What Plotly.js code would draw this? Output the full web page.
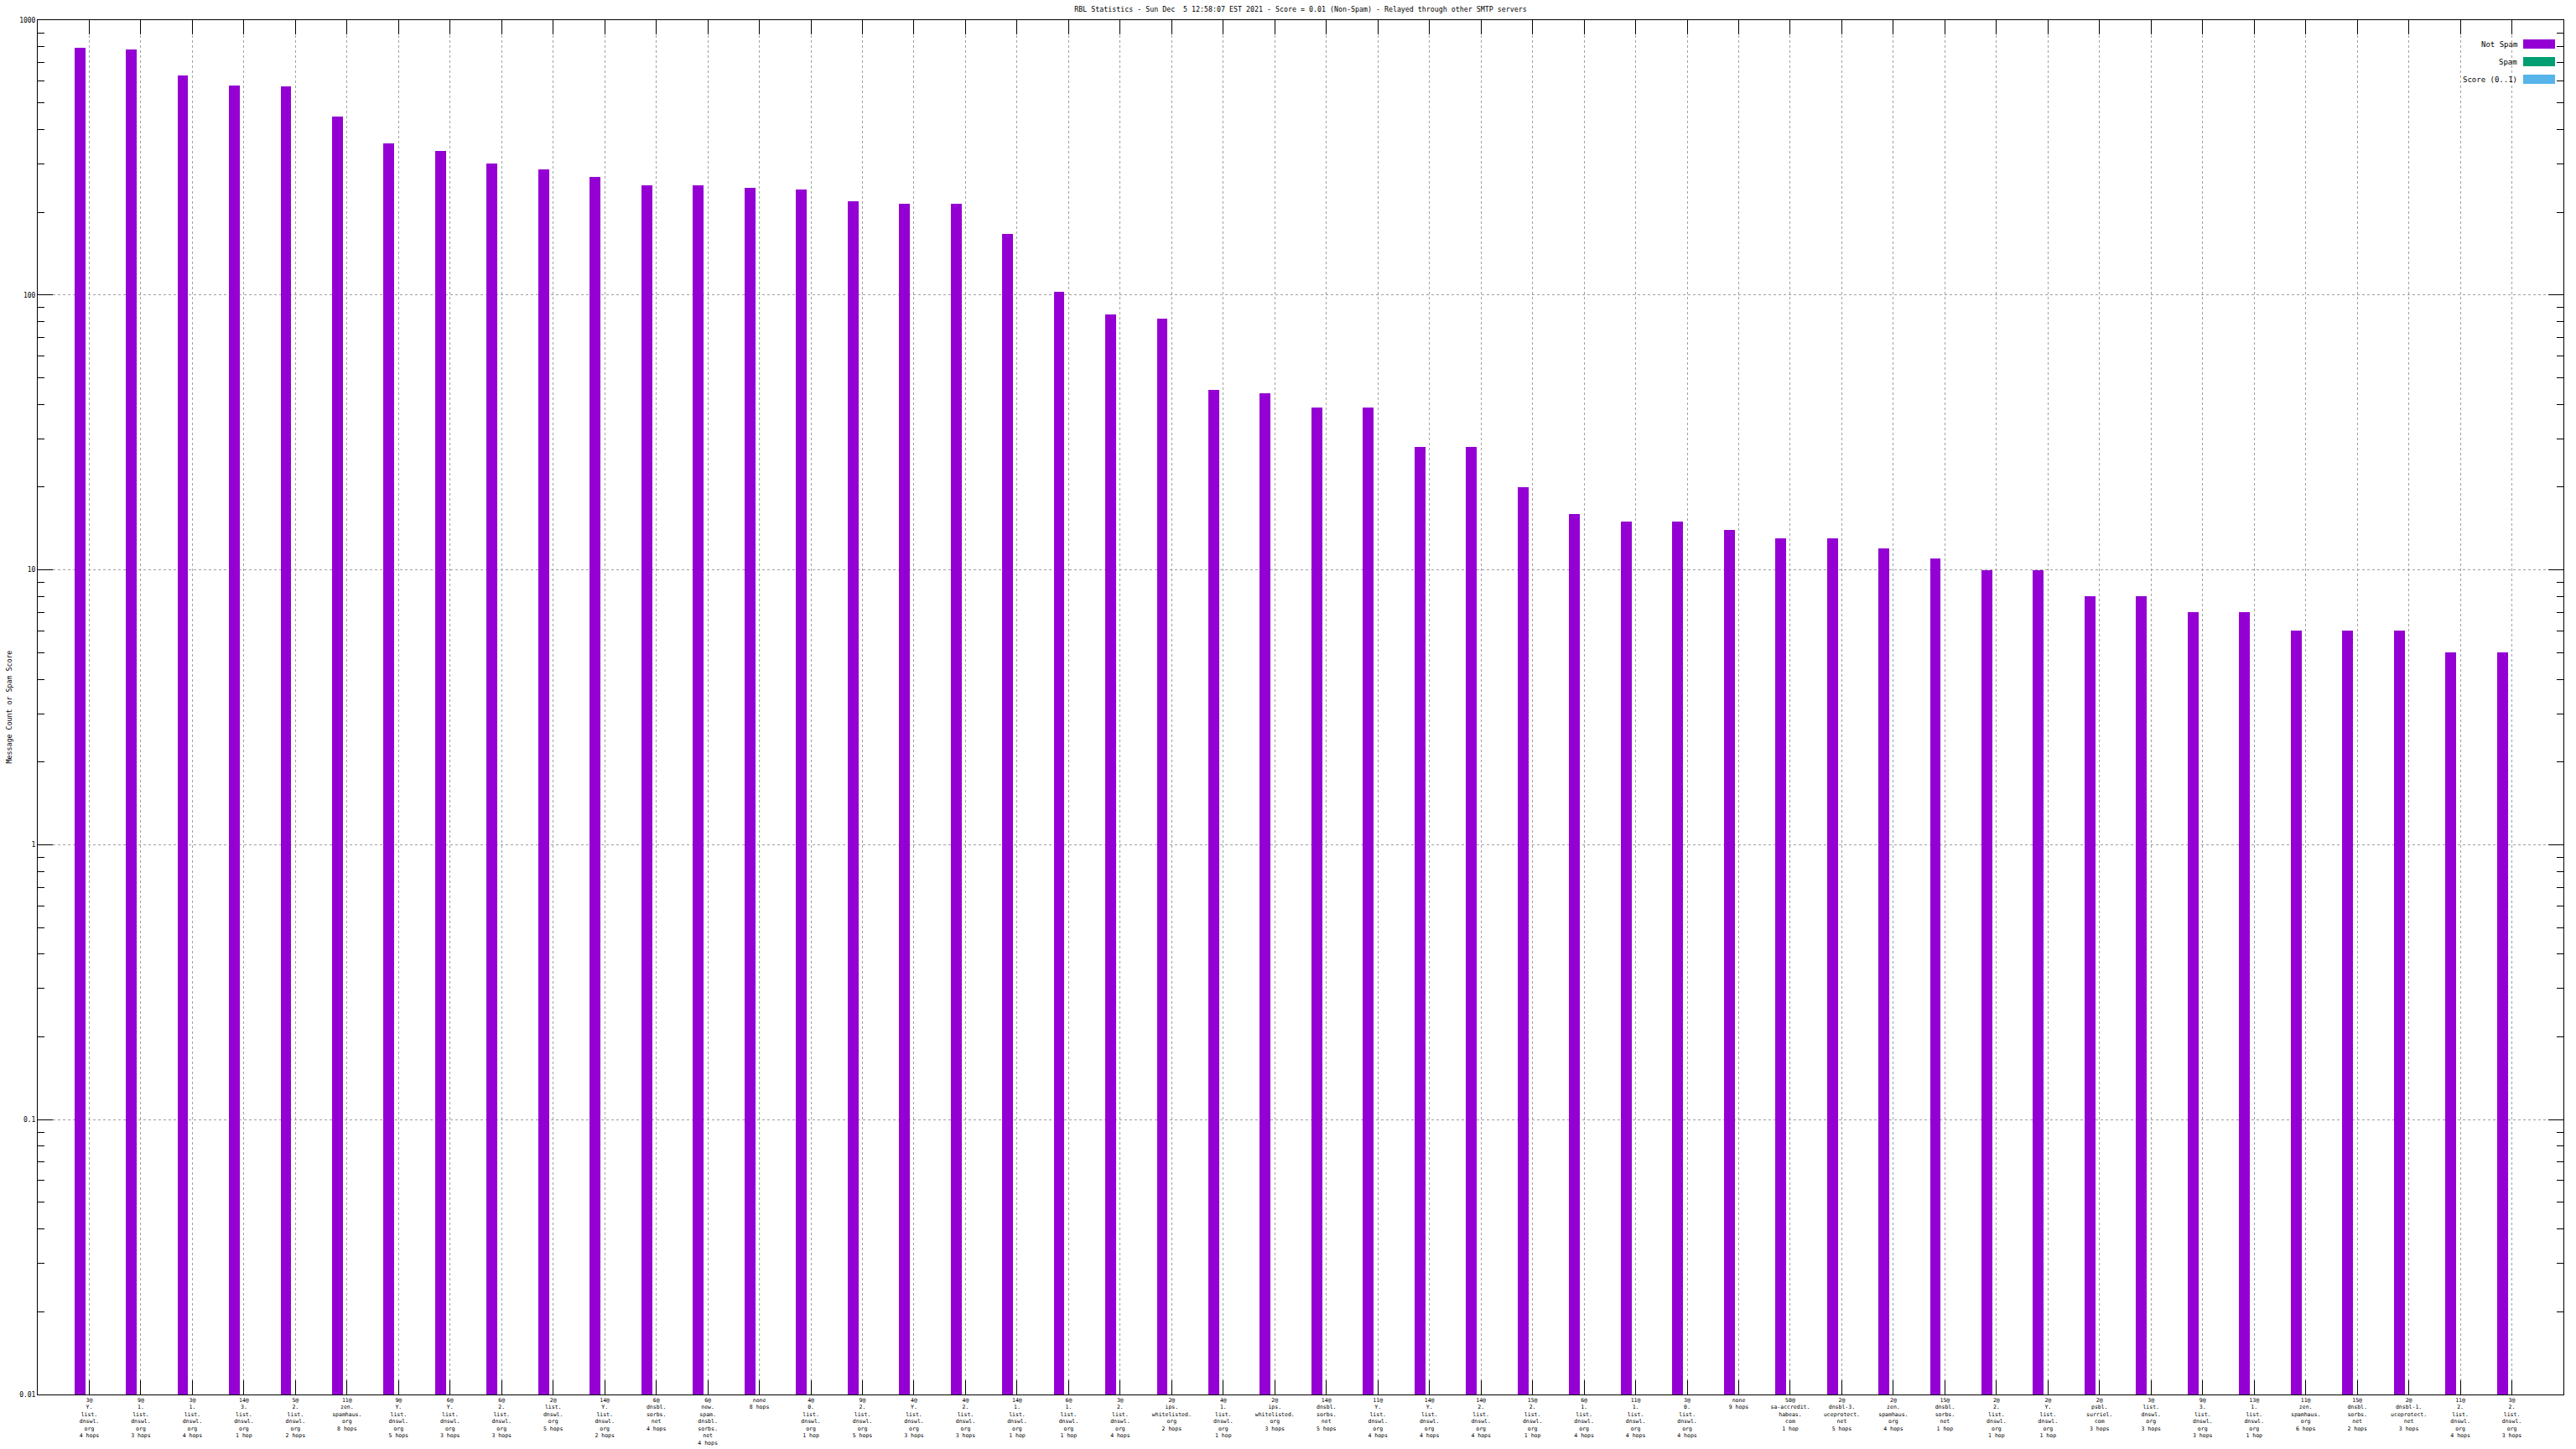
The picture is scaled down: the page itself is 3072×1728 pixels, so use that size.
<!DOCTYPE html>
<html>
<head>
<meta charset="utf-8">
<script src="https://cdn.plot.ly/plotly-3.0.1.min.js"></script>
<style>
html,body{margin:0;padding:0;background:#fff;}
#chart{width:3072px;height:1728px;}
</style>
</head>
<body>
<div id="chart"></div>
<script>
// ---- data ----
const categories = [
  "3@ Y. list. dnswl. org 4 hops",
  "9@ 1. list. dnswl. org 3 hops",
  "3@ 1. list. dnswl. org 4 hops",
  "14@ 3. list. dnswl. org 1 hop",
  "5@ 2. list. dnswl. org 2 hops",
  "11@ zen. spamhaus. org 8 hops",
  "9@ Y. list. dnswl. org 5 hops",
  "6@ Y. list. dnswl. org 3 hops",
  "6@ 2. list. dnswl. org 3 hops",
  "2@ list. dnswl. org 5 hops",
  "14@ Y. list. dnswl. org 2 hops",
  "6@ dnsbl. sorbs. net 4 hops",
  "6@ new. spam. dnsbl. sorbs. net 4 hops",
  "none 8 hops",
  "4@ 0. list. dnswl. org 1 hop",
  "9@ 2. list. dnswl. org 5 hops",
  "4@ Y. list. dnswl. org 3 hops",
  "4@ 2. list. dnswl. org 3 hops",
  "14@ 1. list. dnswl. org 1 hop",
  "6@ 1. list. dnswl. org 1 hop",
  "3@ 2. list. dnswl. org 4 hops",
  "2@ ips. whitelisted. org 2 hops",
  "4@ 1. list. dnswl. org 1 hop",
  "2@ ips. whitelisted. org 3 hops",
  "14@ dnsbl. sorbs. net 5 hops",
  "11@ Y. list. dnswl. org 4 hops",
  "14@ Y. list. dnswl. org 4 hops",
  "14@ 2. list. dnswl. org 4 hops",
  "15@ 2. list. dnswl. org 1 hop",
  "6@ 1. list. dnswl. org 4 hops",
  "11@ 1. list. dnswl. org 4 hops",
  "3@ 0. list. dnswl. org 4 hops",
  "none 9 hops",
  "50@ sa-accredit. habeas. com 1 hop",
  "2@ dnsbl-3. uceprotect. net 5 hops",
  "2@ zen. spamhaus. org 4 hops",
  "15@ dnsbl. sorbs. net 1 hop",
  "2@ 2. list. dnswl. org 1 hop",
  "2@ Y. list. dnswl. org 1 hop",
  "2@ psbl. surriel. com 3 hops",
  "3@ list. dnswl. org 3 hops",
  "9@ 3. list. dnswl. org 3 hops",
  "13@ 1. list. dnswl. org 1 hop",
  "11@ zen. spamhaus. org 6 hops",
  "15@ dnsbl. sorbs. net 2 hops",
  "2@ dnsbl-1. uceprotect. net 3 hops",
  "11@ 2. list. dnswl. org 4 hops",
  "3@ 2. list. dnswl. org 3 hops"
];
const notSpam = [793, 782, 629, 578, 574, 446, 356, 334, 301, 286, 269, 250, 250, 246, 242, 220, 214, 214, 167, 103, 85, 82, 45, 44, 39, 39, 28, 28, 20, 16, 15, 15, 14, 13, 13, 12, 11, 10, 10, 8, 8, 7, 7, 6, 6, 6, 5, 5];
const seriesNames = ["Not Spam", "Spam", "Score (0..1)"];
const seriesColors = ["#9400D3", "#009E73", "#56B4E9"];
const yTickVals = [0.01, 0.1, 1, 10, 100, 1000];
const yTickText = ["0.01", "0.1", "1", "10", "100", "1000"];
const titleText = "RBL Statistics - Sun Dec  5 12:58:07 EST 2021 - Score = 0.01 (Non-Spam) - Relayed through other SMTP servers";
const yTitleText = "Message Count or Spam Score";

// ---- build ----
const xIdx = categories.map((c, i) => i + 1);
const tickText = categories.map(c => {
  const m = c.match(/^(\S+)\s+(.*?)\s*(\d+ hops?)$/);
  if (!m) return c;
  const head = m[1];
  const mid = m[2] ? m[2].split(" ") : [];
  return [head].concat(mid).concat([m[3]]).join("<br>");
});

const minorVals = [];
for (let e = -2; e < 3; e++) for (let k = 2; k <= 9; k++) minorVals.push(k * Math.pow(10, e));

const FONT = "DejaVu Sans Mono, Liberation Mono, monospace";

const traces = [{
  type: "bar",
  name: seriesNames[0],
  x: xIdx,
  y: notSpam,
  width: 0.21,
  offset: -0.29,
  marker: {color: seriesColors[0], line: {width: 0}},
  showlegend: false,
  hoverinfo: "x+y"
}];

// plot area in px
const L = 45, R = 3057, T = 24, B = 1663;
const px2x = p => (p - L) / (R - L);
const px2y = p => (B - p) / (B - T);

const shapes = [];
const annotations = [];
const legRows = [52.5, 73.5, 94.5];
seriesNames.forEach((n, i) => {
  const cy = legRows[i];
  shapes.push({type: "rect", xref: "paper", yref: "paper",
    x0: px2x(3009), x1: px2x(3047), y0: px2y(cy - 5.5), y1: px2y(cy + 5.5),
    fillcolor: seriesColors[i], line: {width: 0}});
  annotations.push({xref: "paper", yref: "paper", x: px2x(3004), y: px2y(cy),
    xanchor: "right", yanchor: "middle", showarrow: false, text: n,
    font: {family: FONT, size: 9, color: "#000"}});
});
annotations.push({xref: "paper", yref: "paper", x: px2x(10), y: 0.5,
  xanchor: "center", yanchor: "middle", showarrow: false, textangle: -90,
  text: yTitleText, font: {family: FONT, size: 8.3, color: "#000"}});

const layout = {
  width: 3072, height: 1728,
  margin: {l: L, r: 3072 - R, t: T, b: 1728 - B, pad: 0},
  paper_bgcolor: "#fff", plot_bgcolor: "#fff",
  font: {family: FONT, size: 8, color: "#000"},
  title: {text: titleText, x: 0.5, xref: "paper", y: 1 - 11 / 1728, yref: "container",
    xanchor: "center", yanchor: "middle", font: {family: FONT, size: 8.3, color: "#000"}},
  showlegend: false,
  bargap: 0,
  xaxis: {
    range: [0, 49], tickmode: "array", tickvals: xIdx, ticktext: tickText,
    ticks: "inside", ticklen: 17, tickwidth: 1, tickcolor: "#000",
    showline: true, linecolor: "#000", linewidth: 1, mirror: "allticks",
    showgrid: true, gridcolor: "#a0a0a0", gridwidth: 1, griddash: "3px,3px",
    zeroline: false, tickangle: 0, automargin: false,
    tickfont: {family: FONT, size: 6.5, color: "#000"}
  },
  yaxis: {
    type: "log", range: [-2, 3], tickmode: "array", tickvals: yTickVals, ticktext: yTickText,
    ticks: "inside", ticklen: 18, tickwidth: 1, tickcolor: "#000",
    showline: true, linecolor: "#000", linewidth: 1, mirror: "allticks",
    showgrid: true, gridcolor: "#a0a0a0", gridwidth: 1, griddash: "3px,3px",
    zeroline: false, automargin: false,
    minor: {tickmode: "array", tickvals: minorVals, ticks: "inside", ticklen: 8,
      tickwidth: 1, tickcolor: "#000", showgrid: false},
    tickfont: {family: FONT, size: 8, color: "#000"}
  },
  shapes: shapes,
  annotations: annotations
};

Plotly.newPlot("chart", traces, layout, {staticPlot: true, displayModeBar: false});
</script>
</body>
</html>
